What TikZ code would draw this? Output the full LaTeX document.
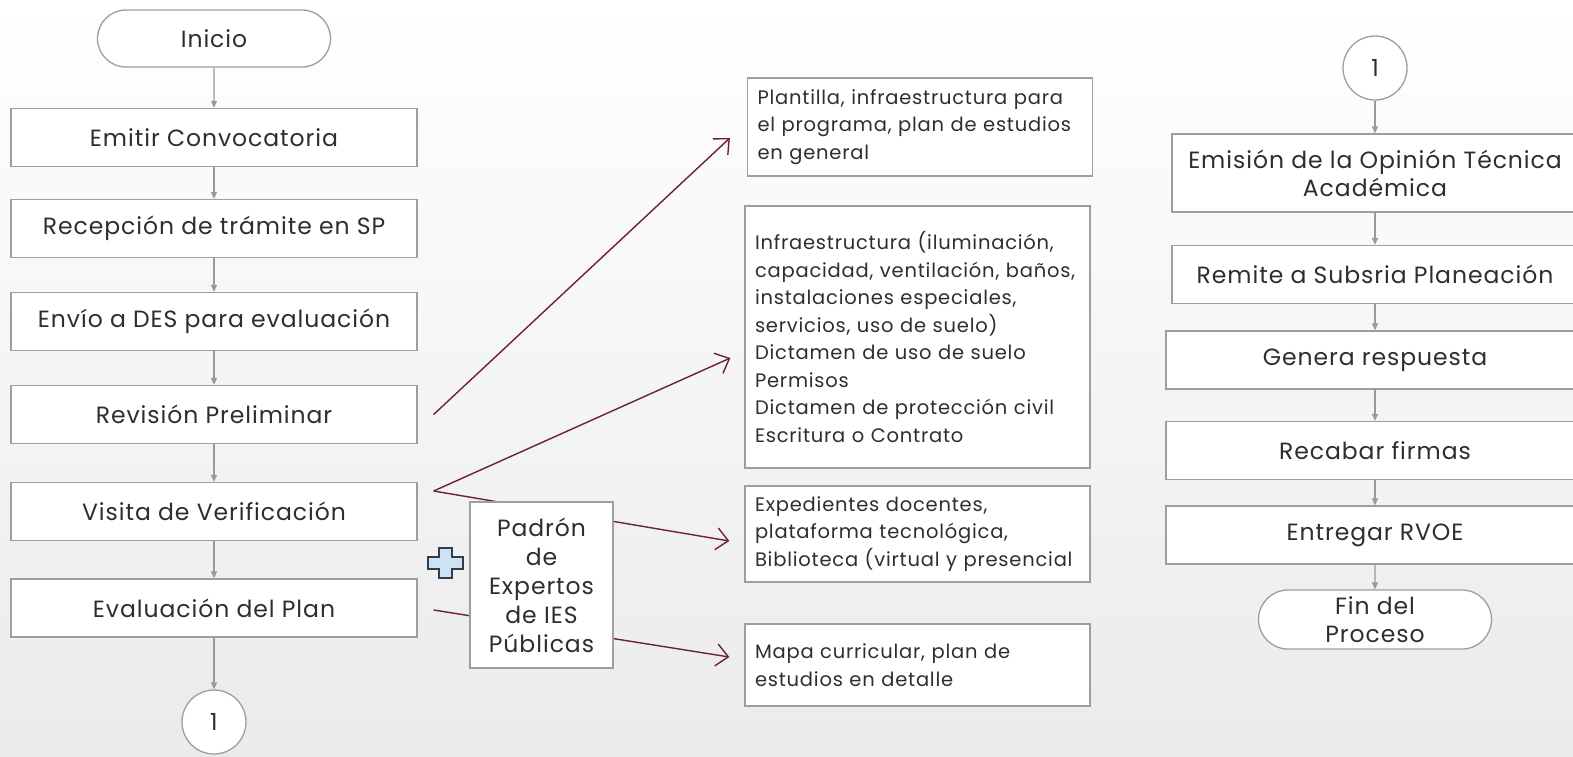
\documentclass[tikz,border=0pt]{standalone}
\usepackage{fontspec}
\setmainfont{Poppins}[LetterSpace=4]
\usetikzlibrary{arrows.meta,shapes.misc}
\definecolor{boxgray}{HTML}{9E9E9E}
\definecolor{arrgray}{HTML}{999999}
\definecolor{linkred}{HTML}{6E1F3A}
\definecolor{txt}{HTML}{2E2E2E}
\definecolor{plusfill}{HTML}{CFE2F3}
\definecolor{plusdraw}{HTML}{2F3E4E}
\begin{document}
\begin{tikzpicture}[x=1pt,y=-1pt,
  every node/.style={text=txt, font=\fontsize{23.5}{28}\selectfont},
  proc/.style={draw=boxgray, line width=1.3pt, fill=white, minimum width=406pt, minimum height=58pt, inner sep=0pt, align=center},
  term/.style={draw=boxgray, line width=1.3pt, fill=white, rounded rectangle, minimum width=233pt, minimum height=57pt, inner sep=0pt, align=center},
  conn/.style={draw=boxgray, line width=1.3pt, fill=white, circle, minimum size=64pt, inner sep=0pt},
  info/.style={draw=boxgray, line width=1.3pt, fill=white, minimum width=345pt, text width=325pt, align=left, inner xsep=10pt, inner ysep=0pt, font=\fontsize{19.5}{27.5}\selectfont},
  padronbox/.style={draw=boxgray, line width=1.3pt, fill=white, minimum width=143pt, minimum height=166pt, align=center, inner sep=0pt, font=\fontsize{23.5}{29}\selectfont},
  flow/.style={draw=arrgray, line width=1.3pt, -{Triangle[length=7pt,width=6pt]}},
  link/.style={draw=linkred, line width=1.4pt, -{Straight Barb[length=12pt,width=22pt]}}
]
\useasboundingbox (0,0) rectangle (1573,756);
\clip (0,0) rectangle (1573,756);
\shade[top color=white, bottom color=black!8] (0,0) rectangle (1573,756);

% left column
\node[term] (inicio) at (214,38.5) {Inicio};
\node[proc] (emitir) at (214,137.5) {Emitir Convocatoria};
\node[proc] (recep) at (214,228.5) {Recepción de trámite en SP};
\node[proc] (envio) at (214,321.5) {Envío a DES para evaluación};
\node[proc] (rev) at (214,414.5) {Revisión Preliminar};
\node[proc] (visita) at (214,511.5) {Visita de Verificación};
\node[proc] (evalp) at (214,608) {Evaluación del Plan};
\node[conn] (c1) at (214,722) {1};

\draw[flow] (inicio) -- (emitir);
\draw[flow] (emitir) -- (recep);
\draw[flow] (recep) -- (envio);
\draw[flow] (envio) -- (rev);
\draw[flow] (rev) -- (visita);
\draw[flow] (visita) -- (evalp);
\draw[flow] (evalp) -- (c1);

% info boxes
\node[info, minimum height=98pt] (A) at (920,127) {Plantilla, infraestructura para\\el programa, plan de estudios\\en general};
\node[info, minimum height=262pt] (B) at (917.5,337) {Infraestructura (iluminación,\\capacidad, ventilación, baños,\\instalaciones especiales,\\servicios, uso de suelo)\\Dictamen de uso de suelo\\Permisos\\Dictamen de protección civil\\Escritura o Contrato};
\node[info, minimum height=96pt] (C) at (917.5,534) {Expedientes docentes,\\plataforma tecnológica,\\Biblioteca (virtual y presencial};
\node[info, minimum height=82pt] (D) at (917.5,665) {Mapa curricular, plan de\\estudios en detalle};

% links
\draw[link] ([shift={(16,0)}]rev.east) -- ([shift={(-17,11)}]A.west);
\draw[link] ([shift={(16,-20.5)}]visita.east) -- ([shift={(-14,21)}]B.west);
\draw[link] ([shift={(16,-20.5)}]visita.east) -- ([shift={(-15,7)}]C.west);
\draw[link] ([shift={(16,2)}]evalp.east) -- ([shift={(-15,-8)}]D.west);

% padron and plus
\node[padronbox] (padron) at (541.5,585) {Padrón\\de\\Expertos\\de IES\\Públicas};
\draw[plusdraw, fill=plusfill, line width=1.2pt] (439,548) -- (452,548) -- (452,557) -- (463,557) -- (463,569) -- (452,569) -- (452,578) -- (439,578) -- (439,569) -- (428,569) -- (428,557) -- (439,557) -- cycle;

% right column
\node[conn] (c2) at (1375,68) {1};
\node[proc, minimum height=78pt] (emision) at (1375,173) {Emisión de la Opinión Técnica\\Académica};
\node[proc] (remite) at (1375,274.5) {Remite a Subsria Planeación};
\node[proc, minimum width=418pt] (genera) at (1375,360) {Genera respuesta};
\node[proc, minimum width=418pt] (recabar) at (1375,450.5) {Recabar firmas};
\node[proc, minimum width=418pt] (entregar) at (1375,535) {Entregar RVOE};
\node[term, minimum height=59pt] (fin) at (1375,619.5) {Fin del\\Proceso};

\draw[flow] (c2) -- (emision);
\draw[flow] (emision) -- (remite);
\draw[flow] (remite) -- (genera);
\draw[flow] (genera) -- (recabar);
\draw[flow] (recabar) -- (entregar);
\draw[flow] (entregar) -- (fin);
\end{tikzpicture}
\end{document}
